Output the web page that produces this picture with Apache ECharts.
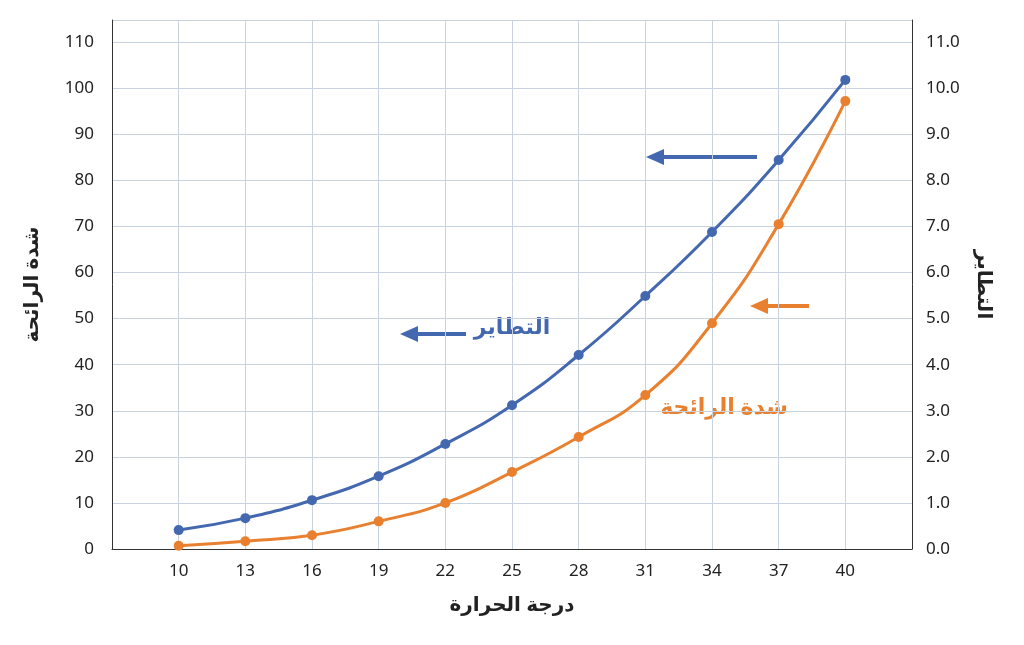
<!DOCTYPE html>
<html><head><meta charset="utf-8">
<script src="https://cdn.jsdelivr.net/npm/echarts@6/dist/echarts.min.js"></script>
<style>html,body{margin:0;padding:0;background:#fff}#c{width:1024px;height:645px}</style>
</head><body><div id="c"></div>
<script>
const temps=[10,13,16,19,22,25,28,31,34,37,40];
const volatility=[4.1,6.7,10.6,15.8,22.8,31.2,42.1,54.9,68.8,84.4,101.8];
const odor=[0.7,1.7,3.0,6.0,10.0,16.7,24.3,33.4,49.0,70.5,97.2];
const BLUE='#4468b0',ORANGE='#e8802f';
const chart=echarts.init(document.getElementById('c'));
const font='"Noto Sans", "DejaVu Sans", sans-serif';
const arrow=(x1,x2,y,c)=>({type:'line',shape:{x1:x1,y1:y,x2:x2+14,y2:y},style:{stroke:c,lineWidth:4}});
const head=(x,y,c)=>({type:'polygon',shape:{points:[[x,y],[x+18,y-8],[x+18,y+8]]},style:{fill:c}});
chart.setOption({
 animation:false,
 grid:{left:112,right:112,top:20,bottom:96},
 xAxis:{type:'value',min:7,max:43,interval:3,
  name:'درجة الحرارة',nameLocation:'middle',nameGap:46,
  nameTextStyle:{fontSize:20,fontWeight:'bold',color:'#222',fontFamily:font},
  axisLine:{show:true,lineStyle:{color:'#333'}},axisTick:{show:false},
  axisLabel:{fontSize:17,color:'#222',margin:14,fontFamily:font,formatter:v=>(v===7||v===43)?'':v},
  splitLine:{show:true,lineStyle:{color:'#c9d3e0'}}},
 yAxis:[
  {type:'value',min:0,max:114.8,interval:10,position:'left',
   name:'شدة الرائحة',nameLocation:'middle',nameGap:70,nameRotate:90,
   nameTextStyle:{fontSize:20,fontWeight:'bold',color:'#222',fontFamily:font},
   axisLine:{show:true,lineStyle:{color:'#333'}},axisTick:{show:false},
   axisLabel:{fontSize:17,color:'#222',margin:18,fontFamily:font,showMaxLabel:false},
   splitLine:{lineStyle:{color:'#c9d3e0'}}},
  {type:'value',min:0,max:11.48,interval:1,position:'right',
   name:'التطاير',nameLocation:'middle',nameGap:62,nameRotate:-90,
   nameTextStyle:{fontSize:20,fontWeight:'bold',color:'#222',fontFamily:font},
   axisLine:{show:true,lineStyle:{color:'#333'}},axisTick:{show:false},
   axisLabel:{fontSize:17,color:'#222',margin:14,fontFamily:font,showMaxLabel:false,formatter:v=>v.toFixed(1)},
   splitLine:{show:false}}
 ],
 series:[
  {type:'line',smooth:true,data:temps.map((t,i)=>[t,volatility[i]]),color:BLUE,
   lineStyle:{width:3},symbol:'circle',symbolSize:10},
  {type:'line',smooth:true,data:temps.map((t,i)=>[t,odor[i]]),color:ORANGE,
   lineStyle:{width:3},symbol:'circle',symbolSize:10}
 ],
 graphic:[
  arrow(757,646,157,BLUE),head(646,157,BLUE),
  arrow(466,400,334,BLUE),head(400,334,BLUE),
  arrow(809,750,306,ORANGE),head(750,306,ORANGE),
  {type:'text',x:512,y:328,style:{text:'التطاير',fill:BLUE,fontSize:22,fontWeight:'bold',fontFamily:font,align:'center',verticalAlign:'middle'}},
  {type:'text',x:724,y:408,style:{text:'شدة الرائحة',fill:ORANGE,fontSize:22,fontWeight:'bold',fontFamily:font,align:'center',verticalAlign:'middle'}}
 ]
});
</script></body></html>
